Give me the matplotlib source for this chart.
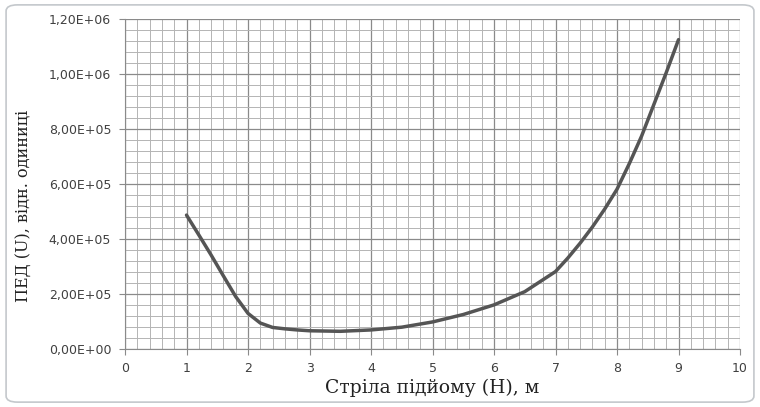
import matplotlib.pyplot as plt
from matplotlib.patches import FancyBboxPatch
from matplotlib.ticker import MultipleLocator, FuncFormatter

# values (H, m -> PED)
h = [1.0, 1.2, 1.4, 1.6, 1.8, 2.0, 2.2, 2.4, 2.6, 2.8, 3.0, 3.5, 4.0, 4.5, 5.0, 5.5, 6.0, 6.5,
     7.0, 7.2, 7.4, 7.6, 7.8, 8.0, 8.2, 8.4, 8.6, 8.8, 9.0]
ped = [4.88e5, 4.16e5, 3.43e5, 2.67e5, 1.92e5, 1.31e5, 9.6e4, 8.0e4, 7.5e4, 7.1e4, 6.8e4, 6.6e4, 7.1e4,
       8.1e4, 1.0e5, 1.27e5, 1.62e5, 2.1e5, 2.83e5, 3.32e5, 3.86e5, 4.45e5, 5.1e5, 5.82e5, 6.75e5,
       7.75e5, 8.9e5, 1.005e6, 1.125e6]

x_label = 'Стріла підйому (Н), м'
y_label = 'ПЕД (U), відн. одиниці'

fig = plt.figure(figsize=(7.6, 4.07), dpi=100)
frame = FancyBboxPatch((0.008, 0.012), 0.984, 0.976, boxstyle='round,pad=0,rounding_size=0.015',
                       transform=fig.transFigure, facecolor='none', edgecolor='#c4c8cc', lw=1.2, zorder=-10)
fig.patches.append(frame)
ax = fig.add_axes([0.1645, 0.1413, 0.8092, 0.812])
ax.patch.set_alpha(0)

ax.plot(h, ped, color='#555555', lw=2.5, solid_capstyle='round', solid_joinstyle='round')

ax.set_xlim(0, 10)
ax.set_ylim(0, 1.2e6)
ax.xaxis.set_major_locator(MultipleLocator(1))
ax.xaxis.set_minor_locator(MultipleLocator(0.2))
ax.yaxis.set_major_locator(MultipleLocator(2e5))
ax.yaxis.set_minor_locator(MultipleLocator(4e4))
ax.yaxis.set_major_formatter(FuncFormatter(lambda v, p: ('%.2E' % v).replace('.', ',')))

ax.grid(which='major', color='#8a8a8a', lw=0.9)
ax.grid(which='minor', color='#b4b4b4', lw=0.7)
ax.set_axisbelow(True)
for s in ['top', 'right']:
    ax.spines[s].set_visible(False)
for s in ['left', 'bottom']:
    ax.spines[s].set_color('#8a8a8a')
ax.tick_params(which='major', length=4, color='#8a8a8a', labelsize=9, labelcolor='#404040')
ax.tick_params(which='minor', length=0)
ax.tick_params(axis='x', pad=5)
ax.tick_params(axis='y', pad=6)

ax.set_xlabel(x_label, family='DejaVu Serif', fontsize=13.5, color='#222222', va='top')
ax.xaxis.set_label_coords(0.5, -0.088)
ax.set_ylabel(y_label, family='DejaVu Serif', fontsize=11.5, color='#222222')
ax.yaxis.set_label_coords(-0.15, 0.434)

fig.savefig('out.png', dpi=100)
